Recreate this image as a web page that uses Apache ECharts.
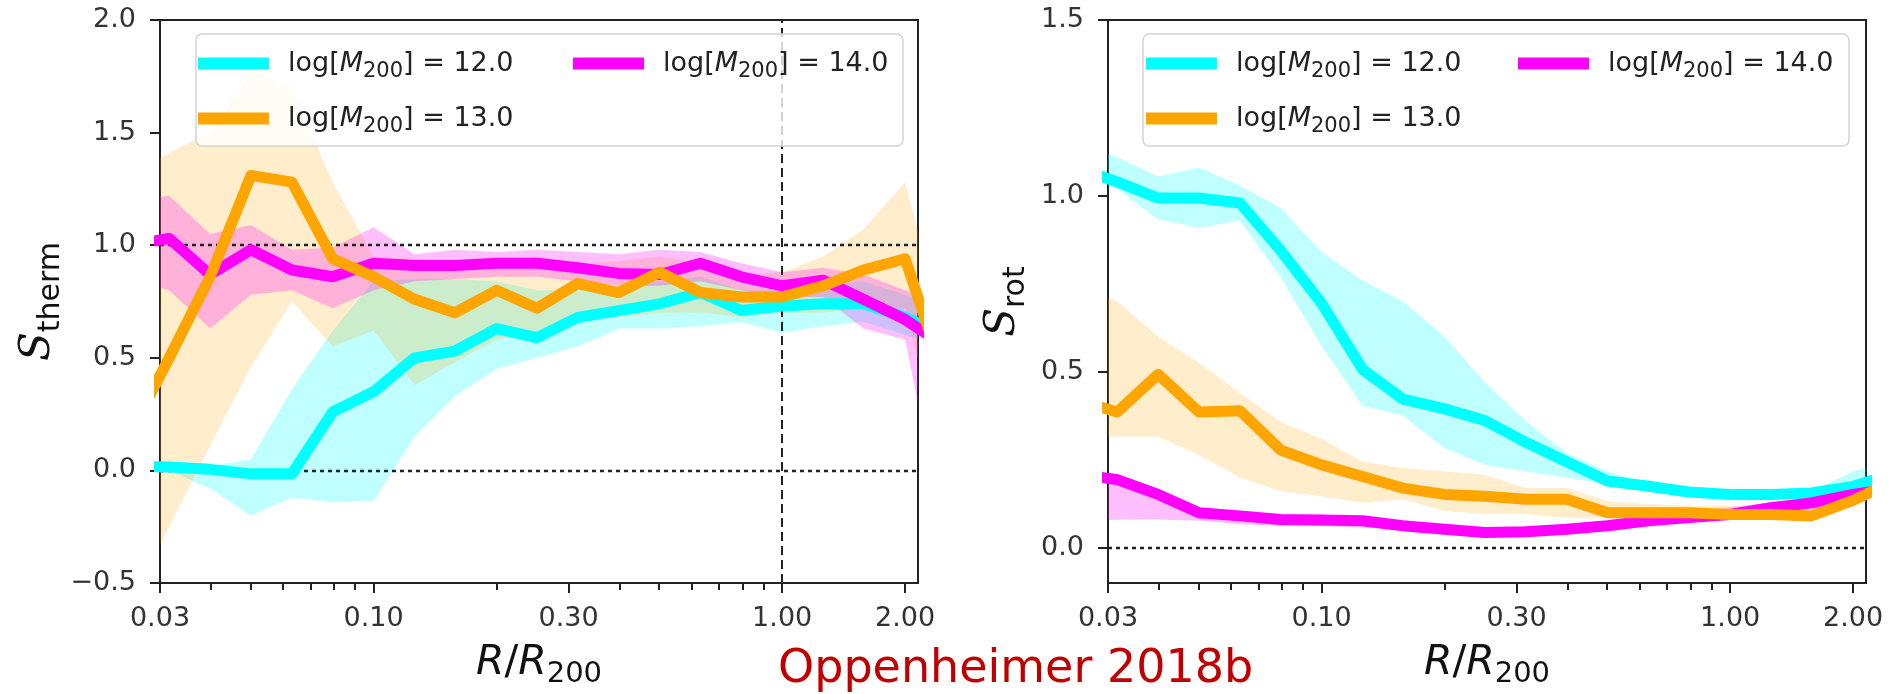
<!DOCTYPE html>
<html>
<head>
<meta charset="utf-8">
<script src="https://cdn.jsdelivr.net/npm/echarts@6/dist/echarts.min.js"></script>
<style>
  html, body { margin: 0; padding: 0; background: #ffffff; }
  #chart { width: 1902px; height: 694px; }
</style>
</head>
<body>
<div id="chart"></div>
<script>
// Radial bins in R/R200, 0.1 dex apart; the first and last bins lie just outside the plotted range
const radius = [0.0251, 0.0316, 0.0398, 0.0501, 0.0631, 0.0794, 0.100, 0.126, 0.158, 0.200, 0.251,
                0.316, 0.398, 0.501, 0.631, 0.794, 1.00, 1.26, 1.58, 2.00, 2.51];

// Halo masses (log M200) and their colours
const massLabels = ['12.0', '13.0', '14.0'];
const massColors = ['#00ffff', '#ffa500', '#ff00ff'];
const bandColors = ['rgba(0,255,255,0.25)', 'rgba(255,165,0,0.2)', 'rgba(255,0,255,0.25)'];

// Thermal support S_therm: median and envelope per mass
const thermM12   = [0.02, 0.015, 0.005, -0.015, -0.015, 0.26, 0.35, 0.50, 0.53, 0.63, 0.59, 0.68, 0.71, 0.74, 0.79, 0.71, 0.73, 0.74, 0.74, 0.68, 0.60];
const thermM12Lo = [0.00, 0.00, -0.08, -0.20, -0.12, -0.14, -0.135, 0.15, 0.33, 0.45, 0.50, 0.55, 0.63, 0.63, 0.64, 0.66, 0.61, 0.64, 0.66, 0.60, 0.55];
const thermM12Hi = [0.03, 0.03, 0.02, 0.05, 0.36, 0.62, 0.84, 0.85, 0.85, 0.84, 0.80, 0.80, 0.82, 0.84, 0.86, 0.80, 0.80, 0.82, 0.84, 0.78, 0.72];

const thermM13   = [0.15, 0.50, 0.86, 1.31, 1.28, 0.94, 0.86, 0.76, 0.70, 0.80, 0.72, 0.83, 0.79, 0.88, 0.79, 0.77, 0.77, 0.82, 0.89, 0.94, 0.40];
const thermM13Lo = [-0.60, -0.25, 0.11, 0.46, 0.75, 0.55, 0.62, 0.38, 0.48, 0.58, 0.62, 0.66, 0.68, 0.70, 0.70, 0.68, 0.70, 0.70, 0.72, 0.72, 0.00];
const thermM13Hi = [1.32, 1.41, 1.50, 1.77, 1.70, 1.28, 0.95, 0.94, 0.92, 0.93, 0.95, 0.92, 0.93, 0.95, 0.92, 0.87, 0.88, 0.95, 1.07, 1.28, 0.60];

const thermM14   = [1.00, 1.03, 0.87, 0.98, 0.89, 0.86, 0.92, 0.91, 0.91, 0.92, 0.92, 0.90, 0.875, 0.87, 0.92, 0.86, 0.82, 0.845, 0.76, 0.67, 0.55];
const thermM14Lo = [0.85, 0.80, 0.63, 0.78, 0.80, 0.72, 0.80, 0.84, 0.85, 0.86, 0.86, 0.84, 0.82, 0.82, 0.84, 0.80, 0.77, 0.77, 0.63, 0.58, -0.30];
const thermM14Hi = [1.20, 1.22, 1.05, 1.09, 0.98, 0.99, 1.08, 0.96, 0.98, 0.97, 0.98, 0.97, 0.96, 0.98, 0.97, 0.92, 0.88, 0.90, 0.87, 0.80, 0.70];

// Rotational support S_rot: median and envelope per mass
const rotM12   = [1.08, 1.04, 0.994, 0.994, 0.98, 0.845, 0.695, 0.507, 0.423, 0.395, 0.362, 0.30, 0.245, 0.19, 0.175, 0.159, 0.152, 0.152, 0.156, 0.175, 0.21];
const rotM12Lo = [1.06, 1.02, 0.934, 0.91, 0.93, 0.77, 0.573, 0.404, 0.376, 0.283, 0.236, 0.217, 0.20, 0.18, 0.161, 0.147, 0.142, 0.142, 0.147, 0.17, 0.19];
const rotM12Hi = [1.15, 1.11, 1.055, 1.08, 1.03, 0.966, 0.84, 0.76, 0.70, 0.60, 0.47, 0.36, 0.27, 0.217, 0.18, 0.16, 0.156, 0.156, 0.161, 0.217, 0.25];

const rotM13   = [0.42, 0.386, 0.493, 0.386, 0.39, 0.278, 0.236, 0.203, 0.17, 0.152, 0.147, 0.138, 0.138, 0.10, 0.10, 0.10, 0.095, 0.095, 0.091, 0.135, 0.19];
const rotM13Lo = [0.316, 0.316, 0.316, 0.264, 0.20, 0.161, 0.147, 0.128, 0.138, 0.105, 0.096, 0.096, 0.086, 0.086, 0.086, 0.086, 0.081, 0.081, 0.077, 0.124, 0.15];
const rotM13Hi = [0.75, 0.70, 0.60, 0.526, 0.44, 0.358, 0.31, 0.245, 0.227, 0.217, 0.208, 0.17, 0.17, 0.133, 0.124, 0.119, 0.119, 0.119, 0.124, 0.152, 0.20];

const rotM14   = [0.21, 0.194, 0.152, 0.10, 0.091, 0.081, 0.079, 0.077, 0.063, 0.053, 0.044, 0.046, 0.053, 0.063, 0.077, 0.086, 0.095, 0.114, 0.128, 0.152, 0.17];
const rotM14Lo = [0.08, 0.08, 0.081, 0.077, 0.067, 0.063, 0.062, 0.058, 0.052, 0.047, 0.04, 0.038, 0.042, 0.05, 0.062, 0.072, 0.08, 0.095, 0.11, 0.135, 0.15];
const rotM14Hi = [0.22, 0.20, 0.16, 0.11, 0.10, 0.09, 0.088, 0.086, 0.072, 0.064, 0.058, 0.06, 0.068, 0.078, 0.092, 0.105, 0.115, 0.13, 0.14, 0.16, 0.18];

// Axes: ranges and tick positions
const radiusRange = [0.03, 2.15];
const majorTicks = [0.03, 0.1, 0.3, 1, 2];
const minorTicks = [0.04, 0.05, 0.06, 0.07, 0.08, 0.09, 0.2, 0.4, 0.5, 0.6, 0.7, 0.8, 0.9];
const thermRange = [-0.5, 2.0];
const thermStep = 0.5;
const rotRange = [-0.1, 1.5];
const rotTicks = [0, 0.5, 1.0, 1.5];

// Reference levels
const thermRefLevels = [1.0, 0.0];
const thermRefRadius = [1.0];
const rotRefLevels = [0.0];

const lg = Math.log10;
const FONT = 'DejaVu Sans';
const INK = '#222222';

const thermSets = [[thermM12, thermM12Lo, thermM12Hi], [thermM13, thermM13Lo, thermM13Hi], [thermM14, thermM14Lo, thermM14Hi]];
const rotSets = [[rotM12, rotM12Lo, rotM12Hi], [rotM13, rotM13Lo, rotM13Hi], [rotM14, rotM14Lo, rotM14Hi]];
const seriesNames = massLabels.map(m => 'log[M200] = ' + m);

function majorXAxis(gridIndex) {
  return {
    type: 'value', gridIndex, position: 'bottom',
    min: lg(radiusRange[0]), max: lg(radiusRange[1]),
    axisLine: { show: true, onZero: false, lineStyle: { color: INK, width: 2 } },
    axisTick: { show: true, customValues: majorTicks.map(lg), length: 10, lineStyle: { color: INK, width: 2 } },
    axisLabel: {
      show: true, customValues: majorTicks.map(lg), margin: 22,
      formatter: v => Math.pow(10, v).toFixed(2),
      fontFamily: FONT, fontSize: 27, color: '#333333'
    },
    splitLine: { show: false },
    name: '{i|R}{n|/}{i|R}{s|200}',
    nameLocation: 'middle', nameGap: 52,
    nameTextStyle: {
      rich: {
        i: { fontFamily: FONT, fontSize: 41, fontStyle: 'italic', color: '#111', lineHeight: 44 },
        n: { fontFamily: FONT, fontSize: 41, color: '#111', lineHeight: 44 },
        s: { fontFamily: FONT, fontSize: 29, color: '#111', lineHeight: 28, padding: [23, 0, 0, 0] }
      }
    }
  };
}

// Second bottom axis on the same grid carrying only the short log-decade ticks
function minorXAxis(gridIndex) {
  return {
    type: 'value', gridIndex, position: 'bottom', offset: 0,
    min: lg(radiusRange[0]), max: lg(radiusRange[1]),
    axisLine: { show: true, onZero: false, lineStyle: { color: INK, width: 2, opacity: 0 } },
    axisTick: { show: true, inside: false, customValues: minorTicks.map(lg), length: 7, lineStyle: { color: INK, width: 2 } },
    axisLabel: { show: true, customValues: minorTicks.map(lg), formatter: () => '' },
    splitLine: { show: false }
  };
}

function yName(main, sub) {
  return {
    name: '{s|' + main + '}{t|' + sub + '}',
    nameLocation: 'middle', nameRotate: 90,
    nameTextStyle: {
      rich: {
        s: { fontFamily: 'DejaVu Serif', fontStyle: 'italic', fontSize: 42, color: '#111', lineHeight: 46 },
        t: { fontFamily: FONT, fontSize: 30, color: '#111', lineHeight: 20, padding: [26, 0, 0, 0] }
      }
    }
  };
}

function fmtTick(v) {
  return (v < 0 ? '\u2212' : '') + Math.abs(v).toFixed(1);
}

const yAxes = [
  Object.assign({
    type: 'value', gridIndex: 0,
    min: thermRange[0], max: thermRange[1], interval: thermStep,
    axisLine: { show: true, onZero: false, lineStyle: { color: INK, width: 2 } },
    axisTick: { show: true, length: 10, lineStyle: { color: INK, width: 2 } },
    axisLabel: { margin: 24, formatter: fmtTick, fontFamily: FONT, fontSize: 27, color: '#333333' },
    splitLine: { show: false },
    nameGap: 96
  }, yName('S', 'therm')),
  Object.assign({
    type: 'value', gridIndex: 1,
    min: rotRange[0], max: rotRange[1],
    axisLine: { show: true, onZero: false, lineStyle: { color: INK, width: 2 } },
    axisTick: { show: true, customValues: rotTicks, length: 10, lineStyle: { color: INK, width: 2 } },
    axisLabel: { customValues: rotTicks, margin: 24, formatter: fmtTick, fontFamily: FONT, fontSize: 27, color: '#333333' },
    splitLine: { show: false },
    nameGap: 82
  }, yName('S', 'rot'))
];

// Shaded envelope between lo and hi, drawn once as a single polygon
function bandSeries(xAxisIndex, yAxisIndex, lo, hi, fill) {
  return {
    type: 'custom', xAxisIndex, yAxisIndex, z: 1, silent: true,
    data: radius.map((r, i) => [lg(r), lo[i], hi[i]]),
    encode: { x: 0, y: [1, 2] },
    renderItem(params, api) {
      if (params.dataIndex !== 0) return null;
      const upper = radius.map((r, i) => api.coord([lg(r), hi[i]]));
      const lower = radius.map((r, i) => api.coord([lg(r), lo[i]])).reverse();
      const cs = params.coordSys;
      return {
        type: 'polygon',
        shape: { points: upper.concat(lower) },
        style: { fill: fill },
        clipPath: { type: 'rect', shape: { x: cs.x, y: cs.y, width: cs.width, height: cs.height } }
      };
    }
  };
}

function medianSeries(xAxisIndex, yAxisIndex, values, k) {
  return {
    type: 'line', name: seriesNames[k], xAxisIndex, yAxisIndex, z: 3,
    data: radius.map((r, i) => [lg(r), values[i]]),
    color: massColors[k],
    showSymbol: false, symbol: 'none', clip: true, silent: true,
    lineStyle: { color: massColors[k], width: 11, join: 'round', cap: 'butt' },
    itemStyle: { color: massColors[k] }
  };
}

function refSeries(xAxisIndex, yAxisIndex, levels, radii) {
  const items = levels.map(v => ({ yAxis: v }))
    .concat(radii.map(r => ({ xAxis: lg(r), lineStyle: { type: [9, 5], width: 2, color: INK } })));
  return {
    type: 'line', xAxisIndex, yAxisIndex, data: [], z: 2, silent: true,
    markLine: {
      z: 2, silent: true, symbol: ['none', 'none'], label: { show: false },
      lineStyle: { color: INK, width: 2.4, type: [4, 4] },
      emphasis: { disabled: true },
      data: items
    }
  };
}

const series = [];
const panels = [
  { xi: 0, yi: 0, sets: thermSets, levels: thermRefLevels, radii: thermRefRadius },
  { xi: 2, yi: 1, sets: rotSets, levels: rotRefLevels, radii: [] }
];
panels.forEach(p => {
  p.sets.forEach((s, k) => series.push(bandSeries(p.xi, p.yi, s[1], s[2], bandColors[k])));
  series.push(refSeries(p.xi, p.yi, p.levels, p.radii));
  [0, 2, 1].forEach(k => series.push(medianSeries(p.xi, p.yi, p.sets[k][0], k)));
});

// Legend: two columns inside a framed box on each panel
const legendRich = {
  a: { fontFamily: FONT, fontSize: 27, color: '#222', lineHeight: 34, padding: [0, 0, 0, 14] },
  b: { fontFamily: FONT, fontSize: 27, color: '#222', lineHeight: 34 },
  i: { fontFamily: FONT, fontSize: 27, fontStyle: 'italic', color: '#222', lineHeight: 34 },
  s: { fontFamily: FONT, fontSize: 21, color: '#222', lineHeight: 18, padding: [16, 0, 0, 0] }
};
function legendAt(left, ks) {
  return {
    orient: 'vertical', left, top: 45, padding: 0, z: 20,
    itemWidth: 71, itemHeight: 12, itemGap: 18, icon: 'rect', selectedMode: false,
    itemStyle: { borderWidth: 0 },
    data: ks.map(k => ({ name: seriesNames[k], itemStyle: { color: massColors[k], borderWidth: 0 } })),
    formatter: name => '{a|log[}{i|M}{s|200}{b|] = ' + massLabels[seriesNames.indexOf(name)] + '}',
    textStyle: { fontFamily: FONT, fontSize: 27, color: '#222', rich: legendRich }
  };
}

const frameStyle = { fill: 'rgba(255,255,255,0.8)', stroke: '#d4d4d4', lineWidth: 1.5 };

const option = {
  animation: false,
  backgroundColor: '#ffffff',
  title: {
    text: 'Oppenheimer 2018b', left: 778, top: 647, padding: 0,
    textStyle: { color: '#c00000', fontFamily: FONT, fontSize: 46, fontWeight: 'normal' }
  },
  grid: [
    { left: 160, top: 20, width: 758, height: 570, show: true, borderColor: INK, borderWidth: 2, containLabel: false },
    { left: 1108, top: 20, width: 758, height: 570, show: true, borderColor: INK, borderWidth: 2, containLabel: false }
  ],
  xAxis: [majorXAxis(0), minorXAxis(0), majorXAxis(1), minorXAxis(1)],
  yAxis: yAxes,
  legend: [legendAt(198, [0, 1]), legendAt(573, [2]), legendAt(1146, [0, 1]), legendAt(1518, [2])],
  graphic: {
    elements: [
      { type: 'rect', z: 10, silent: true, shape: { x: 196, y: 34, width: 707, height: 112, r: 6 }, style: frameStyle },
      { type: 'rect', z: 10, silent: true, shape: { x: 1143, y: 34, width: 706, height: 112, r: 6 }, style: frameStyle }
    ]
  },
  series
};

const chart = echarts.init(document.getElementById('chart'), null, { renderer: 'canvas' });
chart.setOption(option);
</script>
</body>
</html>
